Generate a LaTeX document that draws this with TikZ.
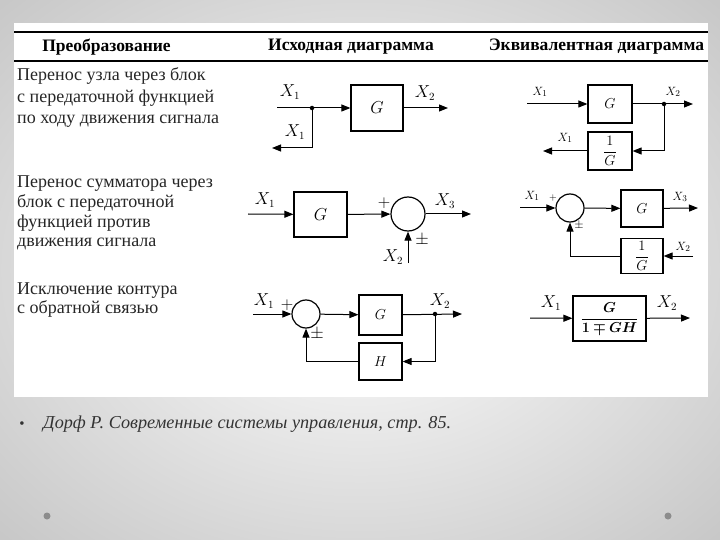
\documentclass[tikz,border=0pt]{standalone}
\usepackage{amsmath}
\usepackage{fontspec}
\usepackage{bm}
\setmainfont{Liberation Serif}
\usetikzlibrary{arrows.meta}
\begin{document}
\begin{tikzpicture}[x=1pt,y=-1pt,
  sig/.style={line width=1pt,-{Triangle[length=9pt,width=7pt]}},
  blk/.style={draw,line width=1.2pt,inner sep=0pt},
  sumc/.style={draw,circle,line width=1.2pt,inner sep=0pt},
  lbl/.style={font=\fontsize{16}{16}\selectfont,inner sep=0pt},
  lbls/.style={font=\fontsize{13}{13}\selectfont,inner sep=0pt},
  hdr/.style={font=\fontsize{17.5}{18}\selectfont\bfseries,inner sep=0pt},
  row/.style={font=\fontsize{18}{18}\selectfont,anchor=base west,inner sep=0pt,text=black!85},
  dot/.style={circle,fill,inner sep=0pt,minimum size=4.5pt}]
\useasboundingbox (0,0) rectangle (720,540);
% background
\shade[shading=radial,inner color=white,outer color=black!22] (-150,-120) rectangle (870,660);
\fill[white] (14,23) rectangle (708,397);
% rules
\draw[line width=1.5pt] (14,32) -- (708,32);
\draw[line width=1.5pt] (14,61) -- (708,61);
% headers
\node[hdr] (h1) at (106.5,47) {Преобразование};
\node[hdr] (h2) at (351,47) {Исходная диаграмма};
\node[hdr] (h3) at (596.5,47) {Эквивалентная диаграмма};
% left texts
\node[row] (t11) at (17,81) {Перенос узла через блок};
\node[row] (t12) at (17,102.5) {с передаточной функцией};
\node[row] (t13) at (17,124) {по ходу движения сигнала};
\node[row] (t21) at (17,188) {Перенос сумматора через};
\node[row] (t22) at (17,207.5) {блок с передаточной};
\node[row] (t23) at (17,227) {функцией против};
\node[row] (t24) at (17,246.5) {движения сигнала};
\node[row] (t31) at (17,294) {Исключение контура};
\node[row] (t32) at (17,313.5) {с обратной связью};

% ---------- Diagram 1 original
\node[blk,minimum width=52pt,minimum height=46pt] (g1) at (377,108) {\fontsize{17}{17}\selectfont$G$};
\coordinate (a1in) at (277,108);
\coordinate (j1) at (312,108);
\coordinate (a1out) at (448,108);
\coordinate (a1b) at (272,148);
\draw[sig] (a1in) -- (g1);
\draw[sig] (g1) -- (a1out);
\draw[sig] (j1) |- (a1b);
\node[dot] (d1) at (j1) {};
\node[lbl] (x11) at (290,92) {$X_1$};
\node[lbl] (x12) at (425,93) {$X_2$};
\node[lbl] (x13) at (295,132) {$X_1$};

% ---------- Diagram 2 original
\node[blk,minimum width=53pt,minimum height=45pt] (g2) at (320.5,214.5) {\fontsize{17}{17}\selectfont$G$};
\node[sumc,minimum size=34pt] (s2) at (408,214) {};
\coordinate (b2in) at (248,214);
\coordinate (b2out) at (471,214);
\coordinate (b2x) at (408,263);
\draw[sig] (b2in) -- (g2);
\draw[sig] (g2) -- (s2);
\draw[sig] (s2) -- (b2out);
\draw[sig] (b2x) -- (s2);
\node[lbl] (x21) at (265,200) {$X_1$};
\node[lbl] (x23) at (445,201) {$X_3$};
\node[lbl] (x22) at (393,257) {$X_2$};
\node[lbl] (p21) at (384,203) {$+$};
\node[lbl] (p22) at (422,240) {$\pm$};

% ---------- Diagram 3 original
\node[sumc,minimum size=28pt] (s3) at (306,314) {};
\node[blk,minimum width=43pt,minimum height=40pt] (g3) at (380.5,315) {\fontsize{14}{14}\selectfont$G$};
\node[blk,minimum width=43pt,minimum height=37pt] (hh3) at (380.5,361.5) {\fontsize{14}{14}\selectfont$H$};
\coordinate (c3in) at (253,314);
\coordinate (c3out) at (462,314);
\coordinate (j3) at (435,314);
\draw[sig] (c3in) -- (s3);
\draw[sig] (s3) -- (g3);
\draw[sig] (g3) -- (c3out);
\draw[sig] (j3) |- (hh3);
\draw[sig] (hh3) -| (s3);
\node[dot] (d3) at (j3) {};
\node[lbl] (x31) at (264,301) {$X_1$};
\node[lbl] (x32) at (440,301) {$X_2$};
\node[lbl] (p31) at (287,305) {$+$};
\node[lbl] (p32) at (317,334) {$\pm$};

% ---------- Equivalent 1
\node[blk,minimum width=44pt,minimum height=38pt] (ge1) at (610,104) {\fontsize{14}{14}\selectfont$G$};
\node[blk,minimum width=44pt,minimum height=38pt] (ie1) at (610,151) {\fontsize{14}{14}\selectfont$\dfrac{1}{G}$};
\coordinate (e1in) at (527,104);
\coordinate (je1) at (664,104);
\coordinate (e1out) at (693,104);
\coordinate (e1back) at (543,151);
\draw[sig] (e1in) -- (ge1);
\draw[sig] (ge1) -- (e1out);
\draw[sig] (je1) |- (ie1);
\draw[sig] (ie1) -- (e1back);
\node[dot] (de1) at (je1) {};
\node[lbls] (xe11) at (540,92) {$X_1$};
\node[lbls] (xe12) at (673,92) {$X_2$};
\node[lbls] (xe13) at (565,138) {$X_1$};

% ---------- Equivalent 2
\node[sumc,minimum size=28pt] (se2) at (570,208) {};
\node[blk,minimum width=42pt,minimum height=37pt] (ge2) at (642,208.5) {\fontsize{14}{14}\selectfont$G$};
\node[blk,minimum width=42pt,minimum height=35pt] (ie2) at (642,256) {\fontsize{14}{14}\selectfont$\dfrac{1}{G}$};
\coordinate (e2in) at (520,208);
\coordinate (e2out) at (698,208);
\coordinate (e2x) at (693,256);
\draw[sig] (e2in) -- (se2);
\draw[sig] (se2) -- (ge2);
\draw[sig] (ge2) -- (e2out);
\draw[sig] (e2x) -- (ie2);
\draw[sig] (ie2) -| (se2);
\node[lbls] (xe21) at (532,196) {$X_1$};
\node[lbls] (xe23) at (680,197) {$X_3$};
\node[lbls] (xe22) at (683,247) {$X_2$};
\node[lbls,font=\fontsize{10}{10}\selectfont] (pe21) at (553,198) {$+$};
\node[lbls] (pe22) at (579,226) {$\pm$};

% ---------- Equivalent 3
\node[blk,minimum width=73pt,minimum height=45pt] (fe) at (609.5,318.5) {\fontsize{15}{15}\selectfont$\dfrac{\bm{G}}{\bm{1\mp GH}}$};
\coordinate (e3in) at (530,318);
\coordinate (e3out) at (690,318);
\draw[sig] (e3in) -- (fe);
\draw[sig] (fe) -- (e3out);
\node[lbl] (xe31) at (551,303) {$X_1$};
\node[lbl] (xe32) at (667,303) {$X_2$};

% footer
\node[font=\fontsize{15}{15}\selectfont,text=black!80,inner sep=0pt,anchor=base] (bul) at (22,428) {•};
\node[font=\fontsize{18.2}{18}\selectfont\itshape,text=black!80,inner sep=0pt,anchor=base west] (ref) at (43,428) {Дорф Р. Современные системы управления, стр. 85.};
\fill[black!45] (47,516) circle (3.5pt);
\fill[black!45] (668,516) circle (3.5pt);
\end{tikzpicture}
\end{document}
